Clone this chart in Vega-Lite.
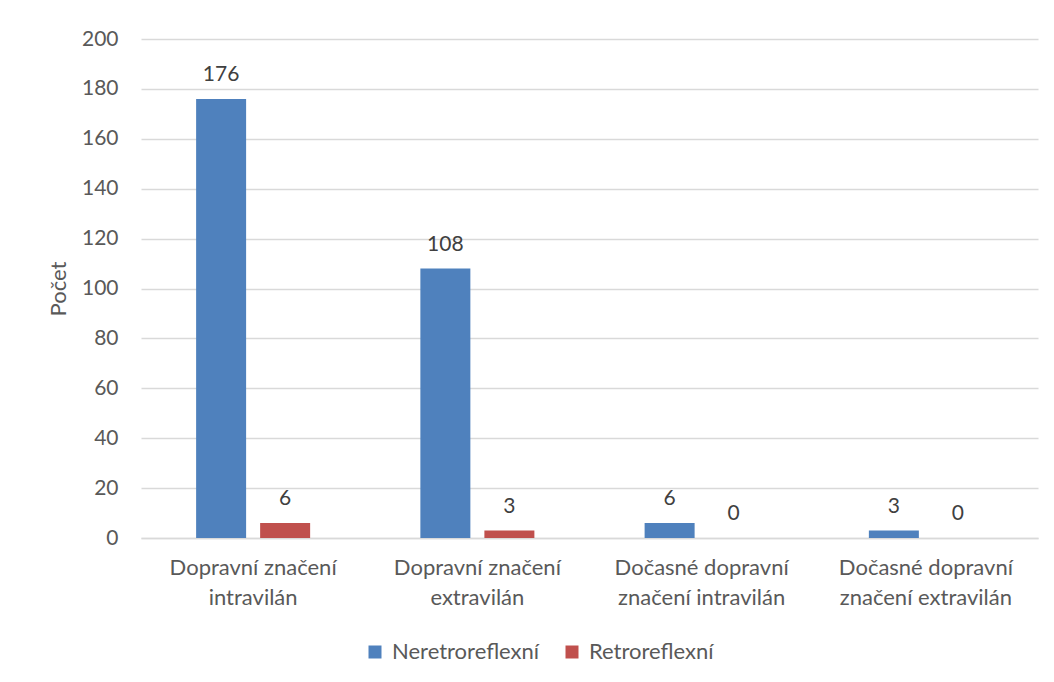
{
  "$schema": "https://vega.github.io/schema/vega-lite/v6.json",
  "width": 897,
  "height": 499,
  "autosize": {"type": "none"},
  "padding": {"left": 141, "top": 39, "right": 16, "bottom": 144},
  "background": "white",
  "config": {
    "font": "Lato",
    "view": {"stroke": null}
  },
  "data": {
    "values": [
      {"kategorie": "Dopravní značení|intravilán", "typ": "Neretroreflexní", "pocet": 176},
      {"kategorie": "Dopravní značení|intravilán", "typ": "Retroreflexní", "pocet": 6},
      {"kategorie": "Dopravní značení|extravilán", "typ": "Neretroreflexní", "pocet": 108},
      {"kategorie": "Dopravní značení|extravilán", "typ": "Retroreflexní", "pocet": 3},
      {"kategorie": "Dočasné dopravní|značení intravilán", "typ": "Neretroreflexní", "pocet": 6},
      {"kategorie": "Dočasné dopravní|značení intravilán", "typ": "Retroreflexní", "pocet": 0},
      {"kategorie": "Dočasné dopravní|značení extravilán", "typ": "Neretroreflexní", "pocet": 3},
      {"kategorie": "Dočasné dopravní|značení extravilán", "typ": "Retroreflexní", "pocet": 0}
    ]
  },
  "encoding": {
    "x": {
      "field": "kategorie",
      "type": "nominal",
      "sort": null,
      "scale": {"paddingInner": 0, "paddingOuter": 0},
      "axis": {
        "title": null,
        "labelAngle": 0,
        "labelExpr": "split(datum.label, '|')",
        "labelFontSize": 22,
        "labelColor": "#595959",
        "labelLineHeight": 30,
        "labelPadding": 19,
        "ticks": false,
        "tickSize": 0,
        "domainColor": "#d9d9d9",
        "domainWidth": 1.5,
        "grid": false
      }
    },
    "xOffset": {
      "field": "typ",
      "type": "nominal",
      "scale": {"paddingInner": 0.219, "paddingOuter": 0.861}
    },
    "y": {
      "field": "pocet",
      "type": "quantitative",
      "scale": {"domain": [0, 200], "nice": false},
      "axis": {
        "title": "Počet",
        "titleFontSize": 22,
        "titleFontWeight": "normal",
        "titleColor": "#595959",
        "titlePadding": 11,
        "values": [0, 20, 40, 60, 80, 100, 120, 140, 160, 180, 200],
        "labelFontSize": 21,
        "labelColor": "#595959",
        "labelPadding": 23,
        "ticks": false,
        "tickSize": 0,
        "domain": false,
        "gridColor": "#d9d9d9",
        "gridWidth": 1.5
      }
    }
  },
  "layer": [
    {
      "mark": {"type": "bar", "width": 50},
      "encoding": {
        "color": {
          "field": "typ",
          "type": "nominal",
          "scale": {"domain": ["Neretroreflexní", "Retroreflexní"], "range": ["#4f81bd", "#c0504d"]},
          "legend": {
            "title": null,
            "orient": "none",
            "direction": "horizontal",
            "legendX": 223,
            "legendY": 602,
            "symbolType": "square",
            "symbolSize": 169,
            "symbolStrokeWidth": 0,
            "labelFontSize": 22,
            "labelColor": "#595959",
            "labelOffset": 6,
            "columnPadding": 21
          }
        }
      }
    },
    {
      "mark": {"type": "text", "baseline": "alphabetic", "dy": -18, "fontSize": 21, "color": "#404040"},
      "encoding": {
        "text": {"field": "pocet", "type": "quantitative"}
      }
    }
  ]
}
